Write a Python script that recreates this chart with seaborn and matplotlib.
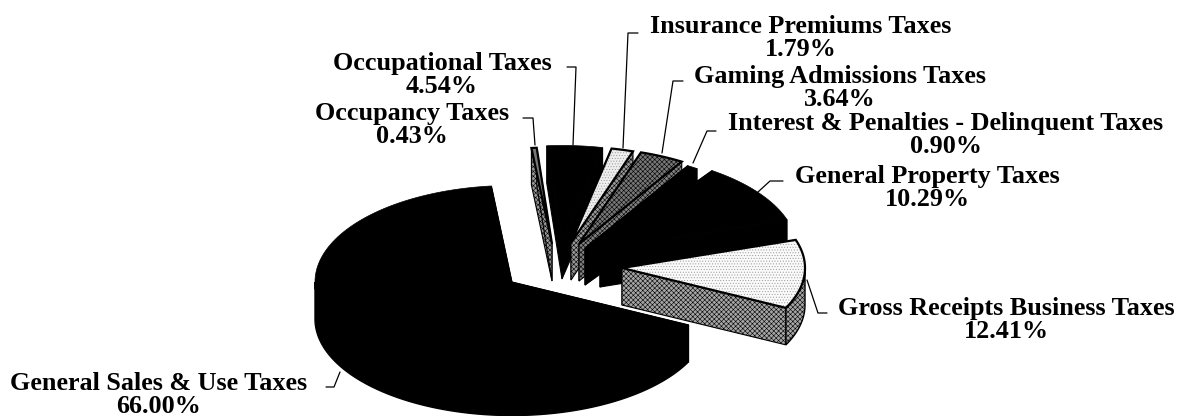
import numpy as np
import seaborn as sns
import matplotlib.pyplot as plt
from matplotlib.patches import Polygon

# Chart data, in the order the pie runs counter-clockwise from the top
names = ["General Sales & Use Taxes", "Gross Receipts Business Taxes", "General Property Taxes",
         "Interest & Penalties - Delinquent Taxes", "Gaming Admissions Taxes",
         "Insurance Premiums Taxes", "Occupational Taxes", "Occupancy Taxes"]
shares = [66.00, 12.41, 10.29, 0.90, 3.64, 1.79, 4.54, 0.43]

# Layout of the exploded 3D pie, in pixels
start_angle = 96
depth = 37
tilt = 0.49
slice_cx = [512, 622, 600, 585, 579, 571, 562, 552]
slice_cy = [282, 268, 250, 248, 244, 243, 242, 244]
slice_rx = [197, 183, 197, 197, 197, 197, 197, 197]
draw_order = [0, 7, 6, 5, 4, 3, 2, 1]

# top colour, side colour, hatch of top, hatch of side
top_colors = ["black", "#fafafa", "black", "black", "#777777", "#eeeeee", "black", "#777777"]
side_colors = ["black", "#a6a6a6", "black", "black", "#808080", "#999999", "black", "#999999"]
top_hatch = [None, "......", None, None, "xxxxxxx", "......", None, None]
side_hatch = [None, "xxxxxxx", None, None, "xxxxxxx", "xxxxxxx", None, "xxxxxxx"]

label_x = [159, 1006, 927, 946, 840, 801, 442, 412]
label_y = [395, 320, 188, 135, 88, 38, 75, 125]
leader_x = [[326, 334, 340], [827, 818, 807], [783, 770, 758], [716, 707, 693],
            [683, 673, 662], [638, 628, 623], [567, 576, 573], [523, 533, 535]]
leader_y = [[387, 387, 372], [313, 313, 280], [181, 181, 192], [131, 131, 163],
            [81, 81, 153], [33, 33, 148], [67, 67, 145], [118, 118, 145]]

sns.set_theme(style="white")
plt.rcParams["font.family"] = ["Liberation Serif", "DejaVu Sans"]
plt.rcParams["hatch.linewidth"] = 0.4

fig = plt.figure(figsize=(11.78, 4.16), dpi=100)
ax = fig.add_axes([0, 0, 1, 1])
ax.set_xlim(0, 1178)
ax.set_ylim(416, 0)
ax.axis("off")


def rim(cx, cy, rx, a0, a1):
    # points along the ellipse between two angles given in degrees
    t = np.radians(np.linspace(a0, a1, max(2, int(abs(a1 - a0)) * 2)))
    return np.column_stack([cx + rx * np.cos(t), cy - rx * tilt * np.sin(t)])


def face(points, color, hatch, outline, hatch_color="black"):
    ax.add_patch(Polygon(points, closed=True, facecolor=color, edgecolor=hatch_color,
                         hatch=hatch, linewidth=0))
    ax.add_patch(Polygon(points, closed=True, fill=False, edgecolor="black", linewidth=outline))


# angle each slice starts at, from the shares
edges = start_angle + np.cumsum([0] + shares) * 3.6
drop = np.array([0, depth])

for i in draw_order:
    cx, cy, rx = slice_cx[i], slice_cy[i], slice_rx[i]
    a0, a1 = edges[i], edges[i + 1]
    center = np.array([cx, cy])
    top = np.vstack([center, rim(cx, cy, rx, a0, a1)])
    lw = 1.6 if top_colors[i] != "black" else 0.5

    # cut faces, the top face is drawn over whatever part of them is hidden
    for a in (a1, a0):
        p = rim(cx, cy, rx, a, a)[0]
        face([center, p, p + drop, center + drop], side_colors[i], side_hatch[i], 0.8)

    # outer wall, only the part that faces the viewer
    for low, high in ((180, 360), (540, 720)):
        w0, w1 = max(a0, low), min(a1, high)
        if w1 > w0:
            arc = rim(cx, cy, rx, w0, w1)
            face(np.vstack([arc, arc[::-1] + drop]), side_colors[i], side_hatch[i], 1.0)

    # the light tops only get a faint stipple
    dots = "#999999" if top_hatch[i] == "......" else "black"
    face(top, top_colors[i], top_hatch[i], lw, dots)

for name, share, x, y, lx, ly in zip(names, shares, label_x, label_y, leader_x, leader_y):
    ax.text(x, y, f"{name}\n{share:.2f}%", ha="center", va="center", fontsize=18.8,
            fontweight="bold", color="black", linespacing=0.95)
    ax.plot(lx, ly, color="black", lw=0.9)

fig.savefig("out.png", dpi=100)
